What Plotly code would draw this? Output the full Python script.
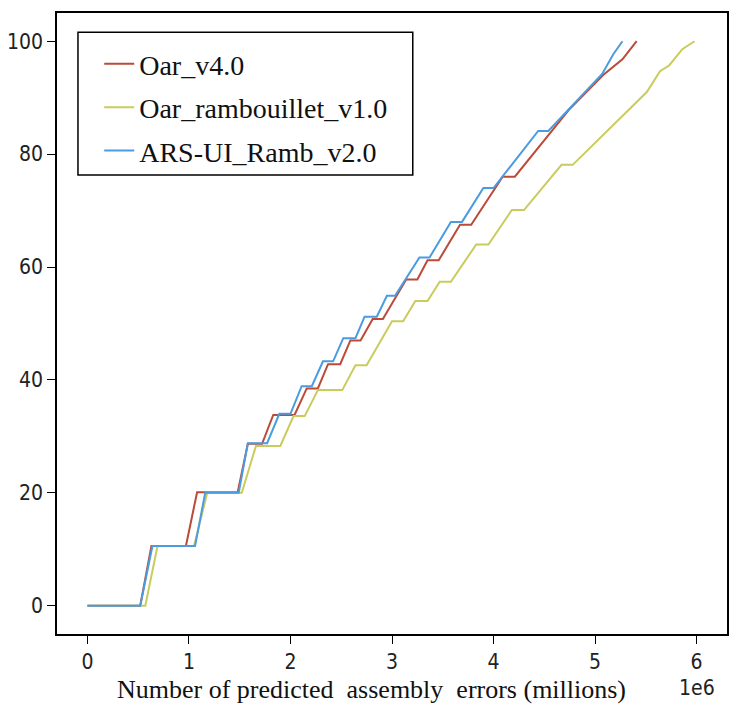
import plotly.graph_objects as go

# Data (x in number of errors, y in percent)
oar_v4_x = [0, 0.52e6, 0.63e6, 0.97e6, 1.08e6, 1.48e6, 1.58e6, 1.72e6, 1.83e6, 2.04e6, 2.16e6, 2.27e6,
            2.37e6, 2.49e6, 2.59e6, 2.69e6, 2.81e6, 2.91e6, 3.14e6, 3.25e6, 3.35e6, 3.46e6, 3.67e6,
            3.78e6, 4.09e6, 4.21e6, 4.75e6, 5.08e6, 5.27e6, 5.41e6]
oar_v4_y = [0, 0, 10.6, 10.6, 20.1, 20.1, 28.7, 28.7, 33.8, 33.8, 38.5, 38.5, 42.8, 42.8, 47.0, 47.0,
            50.8, 50.8, 57.8, 57.8, 61.2, 61.2, 67.5, 67.5, 76.0, 76.0, 88.0, 94.0, 96.8, 100]

ramb_x = [0, 0.57e6, 0.69e6, 1.05e6, 1.18e6, 1.52e6, 1.66e6, 1.90e6, 2.03e6, 2.14e6, 2.27e6, 2.51e6,
          2.64e6, 2.75e6, 3.0e6, 3.11e6, 3.23e6, 3.35e6, 3.47e6, 3.58e6, 3.83e6, 3.95e6, 4.18e6,
          4.30e6, 4.67e6, 4.78e6, 5.51e6, 5.64e6, 5.73e6, 5.86e6, 5.98e6]
ramb_y = [0, 0, 10.6, 10.6, 20.0, 20.0, 28.3, 28.3, 33.6, 33.6, 38.2, 38.2, 42.6, 42.6, 50.4, 50.4,
          54.0, 54.0, 57.4, 57.4, 64.0, 64.0, 70.1, 70.1, 78.1, 78.1, 91.0, 94.7, 95.7, 98.6, 100]

ars_x = [0, 0.52e6, 0.64e6, 1.06e6, 1.16e6, 1.49e6, 1.58e6, 1.77e6, 1.89e6, 2.0e6, 2.11e6, 2.21e6,
         2.32e6, 2.42e6, 2.52e6, 2.64e6, 2.73e6, 2.85e6, 2.95e6, 3.03e6, 3.27e6, 3.37e6, 3.58e6,
         3.69e6, 3.90e6, 4.0e6, 4.44e6, 4.54e6, 5.07e6, 5.18e6, 5.27e6]
ars_y = [0, 0, 10.6, 10.6, 20.0, 20.0, 28.8, 28.8, 34.0, 34.0, 38.9, 38.9, 43.3, 43.3, 47.4, 47.4,
         51.2, 51.2, 54.9, 54.9, 61.7, 61.7, 68.0, 68.0, 74.0, 74.0, 84.1, 84.1, 94.2, 97.7, 100]

series_names = ["Oar_v4.0", "Oar_rambouillet_v1.0", "ARS-UI_Ramb_v2.0"]
series_colors = ["#bb4a38", "#c9cc5c", "#4b9be0"]

x_tickvals = [0, 1e6, 2e6, 3e6, 4e6, 5e6, 6e6]
x_ticktext = ["0", "1", "2", "3", "4", "5", "6"]
y_tickvals = [0, 20, 40, 60, 80, 100]
x_title = "Number of predicted  assembly  errors (millions)"

fig = go.Figure()
for i, (xs, ys) in enumerate([(oar_v4_x, oar_v4_y), (ramb_x, ramb_y), (ars_x, ars_y)]):
    fig.add_trace(go.Scatter(x=xs, y=ys, mode="lines", name=series_names[i],
                             legendgroup=f"g{i}",
                             line=dict(color=series_colors[i], width=2)))

tick_font = dict(family="Liberation Sans Narrow, DejaVu Sans Condensed, Arial Narrow, sans-serif",
                 size=21, color="#222")
serif = "Liberation Serif, Times New Roman, serif"

fig.update_layout(
    width=730, height=712,
    margin=dict(l=49, r=11, t=5, b=86),
    paper_bgcolor="white", plot_bgcolor="white",
    showlegend=True,
    legend=dict(x=0.063, y=0.958, xanchor="left", yanchor="top",
                borderwidth=0, bgcolor="rgba(0,0,0,0)",
                font=dict(family=serif, size=28, color="#111"),
                tracegroupgap=4),
    shapes=[dict(type="rect", xref="paper", yref="paper", x0=0.0313, x1=0.531, y0=0.739, y1=0.969,
                 line=dict(color="black", width=1.5), fillcolor="rgba(0,0,0,0)", layer="above")],
    xaxis=dict(range=[-0.3e6, 6.3e6], tickvals=x_tickvals, ticktext=x_ticktext, automargin=False,
               showgrid=False, zeroline=False, showline=True, linecolor="black", linewidth=1.5,
               mirror=True, ticks="outside", ticklen=8, tickcolor="black", tickfont=tick_font),
    yaxis=dict(range=[-5, 105], tickvals=y_tickvals, automargin=False,
               showgrid=False, zeroline=False, showline=True, linecolor="black", linewidth=1.5,
               mirror=True, ticks="outside", ticklen=8, tickcolor="black", tickfont=tick_font),
    annotations=[
        dict(text=x_title, x=0.470, xref="paper", y=-0.090, yref="paper",
             xanchor="center", yanchor="middle", showarrow=False,
             font=dict(family=serif, size=26, color="#111")),
        dict(text="1e6", x=6e6, xref="x", y=-0.087, yref="paper",
             xanchor="center", yanchor="middle", showarrow=False, font=tick_font),
    ],
)

fig.write_html("out.html")
